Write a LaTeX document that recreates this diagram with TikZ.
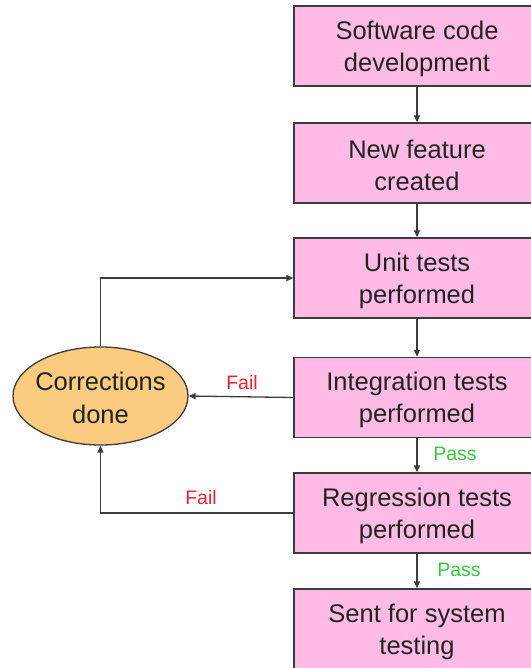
\documentclass[tikz,border=0pt]{standalone}
\usepackage{fontspec}
\setmainfont{Liberation Sans}
\usetikzlibrary{arrows.meta,shapes.geometric}
\definecolor{boxpink}{RGB}{255,187,230}
\definecolor{fixorange}{RGB}{251,204,128}
\definecolor{edgegray}{RGB}{60,60,60}
\definecolor{inkdark}{RGB}{34,34,34}
\definecolor{failred}{RGB}{232,32,48}
\definecolor{passgreen}{RGB}{56,200,64}
\tikzset{
  stagebox/.style={draw=edgegray, line width=1.3pt, fill=boxpink,
    minimum width=246pt, minimum height=80pt, inner sep=0pt},
  stagetext/.style={text=inkdark, align=center, yshift=-2.5pt,
    font=\fontsize{25.5pt}{32pt}\selectfont},
  fixellipse/.style={draw=edgegray, line width=1.3pt, fill=fixorange,
    ellipse, minimum width=175pt, minimum height=98pt, inner sep=0pt},
  fixtext/.style={text=inkdark, align=center, yshift=-2pt,
    font=\fontsize{25.5pt}{33pt}\selectfont},
  flow/.style={draw=edgegray, line width=1.3pt,
    -{Triangle[length=7pt,width=6pt]}},
  faillabel/.style={text=failred, font=\fontsize{19.5pt}{21pt}\selectfont},
  passlabel/.style={text=passgreen, font=\fontsize{19.5pt}{21pt}\selectfont},
}
\begin{document}
\begin{tikzpicture}[x=1pt,y=-1pt]
\useasboundingbox (0,0) rectangle (530,668);

% process stages, stacked down the right edge
\node[stagebox] (b1) at (417,46) {};
\node[stagebox] (b2) at (417,163) {};
\node[stagebox] (b3) at (417,278) {};
\node[stagebox] (b4) at (417,397.5) {};
\node[stagebox] (b5) at (417,513) {};
\node[stagebox] (b6) at (417,629) {};

\node[stagetext] (t1) at (b1) {Software code\\development};
\node[stagetext] (t2) at (b2) {New feature\\created};
\node[stagetext] (t3) at (b3) {Unit tests\\performed};
\node[stagetext] (t4) at (b4) {Integration tests\\performed};
\node[stagetext] (t5) at (b5) {Regression tests\\performed};
\node[stagetext] (t6) at (b6) {Sent for system\\testing};

% correction loop
\node[fixellipse] (fix) at (100.5,396) {};
\node[fixtext] (fixt) at (fix) {Corrections\\done};
\coordinate (up) at (fix.north |- b3.west);
\coordinate (low) at (fix.south |- b5.west);

% main flow
\draw[flow] (b1) -- (b2);
\draw[flow] (b2) -- (b3);
\draw[flow] (b3) -- (b4);
\draw[flow] (b4) -- (b5);
\draw[flow] (b5) -- (b6);

% failures go back for corrections
\draw[flow] (b4.west) -- (fix.east);
\draw[flow] (b5.west) -- (low) -- (fix.south);
\draw[flow] (fix.north) -- (up) -- (b3.west);

% outcome labels
\node[faillabel] (f1) at (242,383) {Fail};
\node[faillabel] (f2) at (201,498) {Fail};
\node[passlabel] (p1) at (455,454) {Pass};
\node[passlabel] (p2) at (459,570) {Pass};
\end{tikzpicture}
\end{document}
